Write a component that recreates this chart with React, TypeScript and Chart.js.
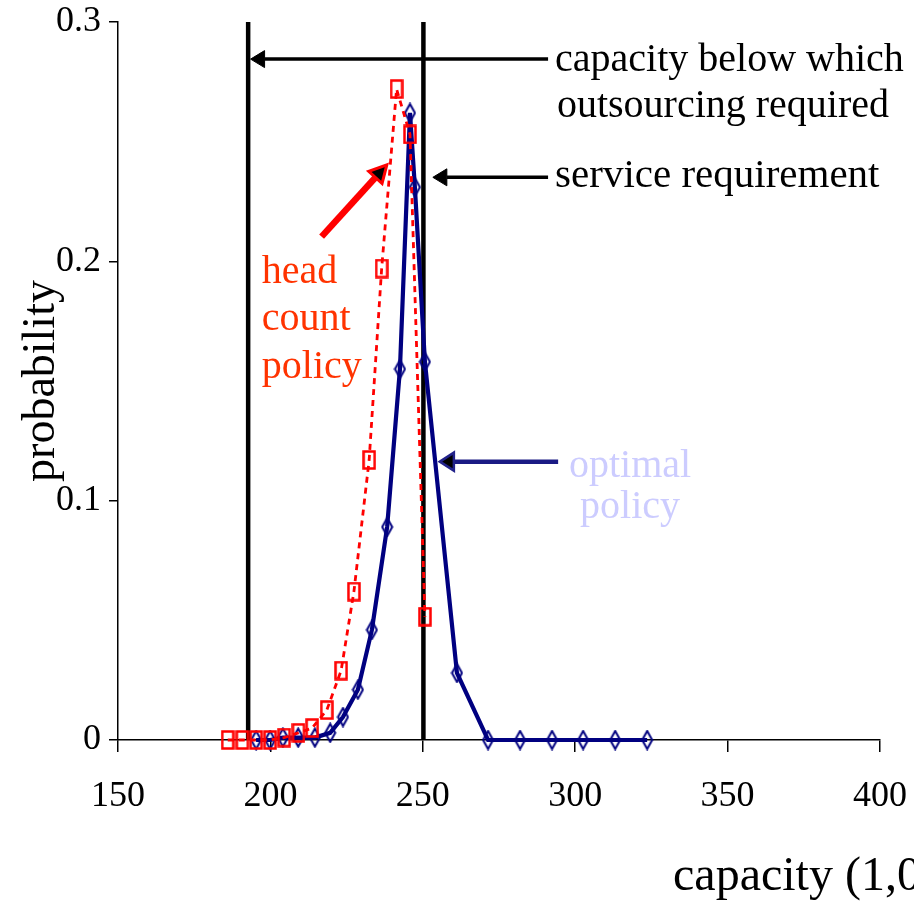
import { useEffect, useRef } from "react";
import { Chart, registerables } from "chart.js";

Chart.register(...registerables);

const SERIF = '"Liberation Serif", "DejaVu Serif", serif';

// ---- data (capacity in 1,000s, probability) ----
const headCountCapacity = [186.0, 190.8, 195.3, 199.9, 204.5, 209.2, 213.7, 218.5, 223.2, 227.4, 232.4, 236.5, 241.4, 245.8, 250.7];
const headCountProb = [0, 0, 0, 0, 0.001, 0.003, 0.005, 0.0125, 0.029, 0.062, 0.117, 0.197, 0.272, 0.253, 0.0515];

const optimalCapacity = [195.3, 199.9, 204.1, 209.1, 214.6, 219.6, 223.8, 228.7, 233.3, 238.3, 242.5, 245.8, 247.4, 250.7, 261.2, 271.4, 281.9, 292.4, 302.6, 313.1, 323.6];
const optimalProb = [0, 0, 0.001, 0.001, 0.001, 0.003, 0.0096, 0.021, 0.046, 0.089, 0.155, 0.262, 0.231, 0.158, 0.028, 0, 0, 0, 0, 0, 0];

const outsourcingCapacity = 192.7;
const serviceRequirementCapacity = 250.2;

const xTickValues = [150, 200, 250, 300, 350, 400];
const xTickLabels = ["150", "200", "250", "300", "350", "400"];
const yTickValues = [0, 0.1, 0.2, 0.3];
const yTickLabels = ["0", "0.1", "0.2", "0.3"];

// ---- annotations, anchored in data coordinates ----
const noteTexts = [
  { text: "capacity below which", x: 293.4, y: 0.2795, color: "#000000", size: 40, align: "left" },
  { text: "outsourcing required", x: 294.0, y: 0.2605, color: "#000000", size: 40, align: "left" },
  { text: "service requirement", x: 293.4, y: 0.2312, color: "#000000", size: 41, align: "left" },
  { text: "head", x: 197.2, y: 0.191, color: "#ff3300", size: 40, align: "left" },
  { text: "count", x: 197.2, y: 0.1713, color: "#ff3300", size: 40, align: "left" },
  { text: "policy", x: 197.2, y: 0.1513, color: "#ff3300", size: 40, align: "left" },
  { text: "optimal", x: 318.0, y: 0.1099, color: "#ccccff", size: 40, align: "center" },
  { text: "policy", x: 318.0, y: 0.0928, color: "#ccccff", size: 40, align: "center" },
  { text: "capacity (1,000s)", x: 332.1, y: -0.0627, color: "#000000", size: 48, align: "left" },
];

const noteArrows = [
  { x0: 291.1, y0: 0.2845, x1: 193.5, y1: 0.2845, line: "#000000", width: 3.5, fill: "#000000", outline: "#000000", outlineWidth: 1, len: 14, half: 8.5 },
  { x0: 291.1, y0: 0.2351, x1: 253.3, y1: 0.2351, line: "#000000", width: 3.5, fill: "#000000", outline: "#000000", outlineWidth: 1, len: 14, half: 8.5 },
  { x0: 216.8, y0: 0.2103, x1: 238.2, y1: 0.2403, line: "#ff0000", width: 6.5, fill: "#000000", outline: "#ff0000", outlineWidth: 3, len: 17, half: 9 },
  { x0: 294.4, y0: 0.1163, x1: 255.6, y1: 0.1163, line: "#1a1a84", width: 4.5, fill: "#000000", outline: "#22228a", outlineWidth: 2.5, len: 14, half: 9 },
];

function makeDiamond(): HTMLCanvasElement {
  const c = document.createElement("canvas");
  c.width = 13;
  c.height = 21;
  const g = c.getContext("2d")!;
  g.strokeStyle = "#000080";
  g.lineWidth = 2;
  g.beginPath();
  g.moveTo(6.5, 1.5);
  g.lineTo(11.5, 10.5);
  g.lineTo(6.5, 19.5);
  g.lineTo(1.5, 10.5);
  g.closePath();
  g.stroke();
  return c;
}

function makeRect(): HTMLCanvasElement {
  const c = document.createElement("canvas");
  c.width = 14;
  c.height = 20;
  const g = c.getContext("2d")!;
  g.strokeStyle = "#ff0000";
  g.lineWidth = 2.5;
  g.strokeRect(1.5, 1.5, 11, 17);
  return c;
}

const notesPlugin = {
  id: "notes",
  afterDraw(chart: any) {
    const { ctx } = chart;
    const xs = chart.scales.x;
    const ys = chart.scales.y;
    ctx.save();
    for (const a of noteArrows) {
      const px0 = xs.getPixelForValue(a.x0);
      const py0 = ys.getPixelForValue(a.y0);
      const px1 = xs.getPixelForValue(a.x1);
      const py1 = ys.getPixelForValue(a.y1);
      const ang = Math.atan2(py1 - py0, px1 - px0);
      const c = Math.cos(ang);
      const s = Math.sin(ang);
      const bx = px1 - c * a.len;
      const by = py1 - s * a.len;
      ctx.strokeStyle = a.line;
      ctx.lineWidth = a.width;
      ctx.lineCap = "butt";
      ctx.beginPath();
      ctx.moveTo(px0, py0);
      ctx.lineTo(bx, by);
      ctx.stroke();
      ctx.beginPath();
      ctx.moveTo(px1, py1);
      ctx.lineTo(bx - s * a.half, by + c * a.half);
      ctx.lineTo(bx + s * a.half, by - c * a.half);
      ctx.closePath();
      ctx.fillStyle = a.fill;
      ctx.fill();
      ctx.strokeStyle = a.outline;
      ctx.lineWidth = a.outlineWidth;
      ctx.lineJoin = "miter";
      ctx.stroke();
    }
    for (const t of noteTexts) {
      ctx.font = `${t.size}px ${SERIF}`;
      ctx.fillStyle = t.color;
      ctx.textAlign = t.align;
      ctx.textBaseline = "alphabetic";
      ctx.fillText(t.text, xs.getPixelForValue(t.x), ys.getPixelForValue(t.y));
    }
    ctx.restore();
  },
};

export default function App() {
  const ref = useRef<HTMLCanvasElement | null>(null);

  useEffect(() => {
    if (!ref.current) return;
    const diamond = makeDiamond();
    const rect = makeRect();
    const chart = new Chart(ref.current, {
      type: "line",
      data: {
        datasets: [
          {
            label: "head count policy",
            data: headCountCapacity.map((x, i) => ({ x, y: headCountProb[i] })),
            borderColor: "#ff0000",
            borderWidth: 2.8,
            borderDash: [6, 5],
            pointStyle: rect as any,
            pointRadius: 6,
            tension: 0,
            clip: false as any,
            order: 1,
          },
          {
            label: "optimal policy",
            data: optimalCapacity.map((x, i) => ({ x, y: optimalProb[i] })),
            borderColor: "#000080",
            borderWidth: 4.2,
            pointStyle: diamond as any,
            pointRadius: 6,
            tension: 0,
            clip: false as any,
            order: 2,
          },
          {
            label: "outsourcing",
            data: [
              { x: outsourcingCapacity, y: 0 },
              { x: outsourcingCapacity, y: 0.3 },
            ],
            borderColor: "#000000",
            borderWidth: 4.5,
            pointRadius: 0,
            order: 3,
          },
          {
            label: "service",
            data: [
              { x: serviceRequirementCapacity, y: 0 },
              { x: serviceRequirementCapacity, y: 0.3 },
            ],
            borderColor: "#000000",
            borderWidth: 4.5,
            pointRadius: 0,
            order: 3,
          },
        ],
      },
      options: {
        animation: false,
        responsive: false,
        devicePixelRatio: 1,
        layout: { padding: { top: 22, right: 34, left: 0, bottom: 0 } },
        plugins: { legend: { display: false }, tooltip: { enabled: false } },
        scales: {
          x: {
            type: "linear",
            min: 150,
            max: 400,
            afterBuildTicks: (s: any) => {
              s.ticks = xTickValues.map((v) => ({ value: v }));
            },
            afterFit: (s: any) => {
              s.height = 166;
            },
            ticks: {
              autoSkip: false,
              maxRotation: 0,
              color: "#000000",
              padding: 0,
              font: { family: SERIF, size: 36, lineHeight: 2.5 },
              callback: (_v: any, i: number) => xTickLabels[i],
            },
            grid: { drawOnChartArea: false, drawTicks: true, tickLength: 12, color: "#000000", lineWidth: 1.5 },
            border: { display: true, color: "#000000", width: 1.5 },
          },
          y: {
            type: "linear",
            min: 0,
            max: 0.3,
            afterBuildTicks: (s: any) => {
              s.ticks = yTickValues.map((v) => ({ value: v }));
            },
            afterFit: (s: any) => {
              s.width = 118;
            },
            ticks: {
              autoSkip: false,
              color: "#000000",
              padding: 8,
              font: { family: SERIF, size: 36, lineHeight: 0.7 },
              callback: (_v: any, i: number) => yTickLabels[i],
            },
            grid: { drawOnChartArea: false, drawTicks: true, tickLength: 9, color: "#000000", lineWidth: 1.5 },
            border: { display: true, color: "#000000", width: 1.5 },
            title: {
              display: true,
              text: "probability",
              color: "#000000",
              font: { family: SERIF, size: 46 },
              padding: { top: 14, bottom: 0 },
            },
          },
        },
      },
      plugins: [notesPlugin],
    } as any);
    return () => chart.destroy();
  }, []);

  return (
    <div style={{ position: "fixed", left: 0, top: 0, width: 914, height: 906, background: "#ffffff" }}>
      <canvas ref={ref} width={914} height={906} style={{ display: "block", width: 914, height: 906 }} />
    </div>
  );
}
